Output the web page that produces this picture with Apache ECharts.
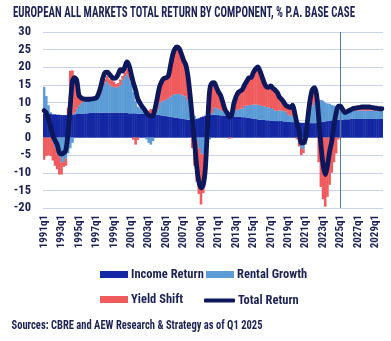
<!DOCTYPE html>
<html><head><meta charset="utf-8">
<script src="https://cdn.jsdelivr.net/npm/echarts@6/dist/echarts.min.js"></script>
<style>html,body{margin:0;padding:0;background:#fff}#c{width:391px;height:341px}</style>
</head><body><div id="c"></div>
<script>
// Quarter labels 1991q1 .. 2029q4
var years = [];
for (var y = 1991; y <= 2029; y++) years.push(y);
var categories = [];
years.forEach(function (y) { for (var q = 1; q <= 4; q++) categories.push(y + 'q' + q); });

var incomeReturn = [
 6.8,6.8,6.7,6.7, 6.6,6.6,6.5,6.5, 6.4,6.4,6.4,6.5, 6.5,6.6,6.6,6.7,
 6.7,6.8,6.8,6.9, 6.9,7.0,7.0,7.0, 7.0,7.1,7.1,7.1, 7.1,7.1,7.1,7.1,
 7.1,7.0,7.0,7.0, 7.0,7.0,7.0,6.9, 6.9,6.9,6.9,6.8, 6.8,6.8,6.8,6.7,
 6.7,6.6,6.6,6.5, 6.5,6.4,6.3,6.2, 6.1,6.0,5.9,5.8, 5.7,5.6,5.5,5.4,
 5.3,5.2,5.1,5.1, 5.1,5.2,5.3,5.5, 5.8,6.0,6.2,6.4, 6.5,6.5,6.5,6.4,
 6.4,6.3,6.3,6.2, 6.2,6.1,6.1,6.0, 6.0,5.9,5.9,5.8, 5.8,5.7,5.6,5.5,
 5.4,5.3,5.2,5.1, 5.0,5.0,4.9,4.9, 4.8,4.8,4.7,4.7, 4.7,4.7,4.6,4.6,
 4.5,4.5,4.4,4.4, 4.3,4.3,4.2,4.2, 4.2,4.1,4.1,4.1, 4.1,4.2,4.3,4.4,
 4.5,4.6,4.7,4.8, 4.9,5.0,5.0,5.1, 5.1,5.1,5.2,5.2, 5.2,5.3,5.3,5.3,
 5.3,5.3,5.3,5.3, 5.3,5.3,5.3,5.3, 5.3,5.3,5.3,5.3
];
var rentalGrowth = [
 7.6,5.0,2.5,0.5, -1.5,-3.0,-4.5,-5.5, -7.0,-7.0,-6.0,-4.5, -3.0,-1.5,0.5,1.5,
 2.5,3.0,3.5,3.5, 3.5,3.6,3.7,3.8, 3.8,4.5,5.5,7.5, 8.5,9.0,8.0,7.5,
 7.3,7.2,7.5,8.0, 9.5,10.5,11.0,10.0, 8.5,6.0,3.5,2.0, 1.5,1.0,0.5,-0.5,
 -1.5,-2.0,-1.0,0.5, 1.5,3.5,4.0,4.3, 4.8,5.2,5.8,6.3, 6.6,6.8,6.9,6.8,
 6.7,6.5,5.5,4.5, 2.0,1.0,-1.0,-3.0, -4.5,-4.8,-3.0,-2.0, -0.5,0.5,2.0,2.0,
 1.8,1.5,1.2,1.0, 0.5,0.3,0.5,1.0, 1.8,2.0,2.3,2.5, 3.2,3.4,3.6,3.8,
 4.0,4.1,4.2,4.1, 4.0,3.9,3.8,3.7, 3.6,3.4,3.0,2.9, 3.0,3.0,2.9,2.8,
 2.0,1.8,1.7,1.5, 0.5,-1.5,-3.0,-3.4, -2.0,1.5,3.5,5.0, 6.0,6.5,6.5,6.3,
 6.0,5.3,5.0,4.8, 4.4,4.1,3.9,3.7, 3.0,2.4,2.1,2.1, 2.2,2.3,2.3,2.4,
 2.4,2.4,2.4,2.4, 2.4,2.4,2.4,2.3, 2.3,2.3,2.3,2.3
];
var yieldShift = [
 -6.3,-5.2,-5.0,-5.2, -5.0,-5.0,-4.5,-5.0, -3.5,-1.3,-2.0,2.0, 12.5,12.5,9.5,6.5,
 2.5,1.5,1.0,0.5, 0.5,0.4,0.6,0.5, 0.3,0.5,0.5,1.0, 1.0,1.5,1.5,2.0,
 1.5,1.0,1.0,1.5, 1.0,1.0,1.5,1.5, 0.3,-0.6,-2.0,-0.6, 0,0,0,0,
 1.0,1.5,1.5,2.5, 5.0,5.0,5.0,5.5, 6.0,7.0,9.0,11.5, 12.8,12.9,12.2,10.5,
 9.5,8.5,3.5,0.5, -3.0,-8.0,-11.5,-13.0, -14.5,-11.0,-7.0,3.0, 8.5,8.5,7.0,5.8,
 4.5,3.5,2.0,1.0, 0.3,-0.3,-0.2,0.8, 2.5,3.5,4.8,5.5, 6.0,7.0,7.5,7.8,
 8.8,10.0,11.0,10.2, 8.0,7.2,5.8,5.5, 5.8,5.8,5.5,4.8, 4.3,3.5,2.5,1.8,
 2.0,2.3,2.5,1.0, -0.5,-1.0,-2.0,-1.0, 0,1.5,3.0,4.5, 3.8,1.5,-7.0,-14.0,
 -17.5,-19.6,-16.8,-13.4, -10.0,-7.0,-4.5,-0.5, 0.2,0.1,0.1,0.2, 0.3,0.5,0.7,0.8,
 0.9,1.0,1.0,1.0, 1.0,1.0,0.9,0.9, 0.9,0.8,0.8,0.7
];
var totalReturn = [
 7.7,7.0,5.2,3.0, 0.6,-0.8,-2.0,-4.3, -4.7,-4.4,-3.5,1.4, 9.0,16.0,17.0,16.2,
 12.0,11.3,11.0,10.9, 10.9,10.9,11.0,11.1, 11.3,12.5,14.5,17.0, 18.5,18.6,18.0,17.2,
 16.8,17.0,18.0,19.3, 18.9,20.0,21.5,20.5, 18.0,15.5,13.5,11.0, 9.8,8.8,8.0,7.0,
 6.3,6.1,6.3,8.5, 11.5,14.5,16.0,16.8, 17.0,17.5,20.5,23.5, 25.2,25.8,25.3,23.8,
 22.0,20.7,17.5,12.0, 5.5,-1.0,-8.0,-12.5, -14.3,-13.5,-8.7,3.5, 13.5,15.5,15.6,14.4,
 13.0,12.0,10.0,8.0, 7.0,5.8,6.3,9.5, 11.5,12.8,13.2,13.7, 15.0,16.0,17.0,17.1,
 18.5,19.5,20.1,19.0, 17.3,15.6,14.4,14.3, 14.7,14.0,13.5,12.8, 11.5,10.9,10.0,9.1,
 8.8,8.5,9.2,7.0, 4.0,1.8,-1.5,-1.5, 0.0,5.6,10.5,13.5, 14.2,12.3,5.5,-2.0,
 -7.7,-10.5,-8.0,-4.0, -1.0,3.5,7.0,8.9, 8.9,8.0,7.1,7.4, 7.7,8.0,8.3,8.4,
 8.5,8.6,8.7,8.7, 8.7,8.7,8.6,8.5, 8.4,8.3,8.2,8.2
];
var yTicks = { min: -20, max: 30, interval: 5 };
var forecastStart = '2025q1';
var titleText = 'EUROPEAN ALL MARKETS TOTAL RETURN BY COMPONENT, % P.A. BASE CASE';
var sourceText = 'Sources: CBRE and AEW Research & Strategy as of Q1 2025';

var FONT = "'Roboto Condensed'";
var TXT = '#1c2354';
var C_INC = '#1428a3', C_RENT = '#5b9bd6', C_YLD = '#f05b5d', C_TOT = '#0d175c';

// horizontal squeeze so wide text spans the same width as the reference
var mctx = document.createElement('canvas').getContext('2d');
function fitScale(text, font, target) { mctx.font = font; return target / mctx.measureText(text).width; }
var titleFont = 'bold 14px ' + FONT;
var srcFont = 'bold 12.5px ' + FONT;
var titleScale = fitScale(titleText, titleFont, 342);
var srcScale = fitScale(sourceText, srcFont, 251);

var chart = echarts.init(document.getElementById('c'), null, { renderer: 'canvas' });
function leg(name, left, top, icon, w, h) {
  return { data: [name], left: left, top: top, icon: icon, itemWidth: w, itemHeight: h, itemGap: 0,
    textStyle: { color: TXT, fontFamily: FONT, fontWeight: 'bold', fontSize: 12.5, padding: [0, 0, 0, -2] },
    padding: 0, selectedMode: false };
}
chart.setOption({
  animation: false,
  legend: [
    leg('Income Return', 100, 268, 'rect', 28, 7),
    leg('Rental Growth', 206, 268, 'rect', 28, 7),
    leg('Yield Shift', 100, 293, 'rect', 28, 7),
    leg('Total Return', 204, 294, 'roundRect', 31, 4)
  ],
  graphic: [
    { type: 'text', x: 13, y: 13, scaleX: titleScale, originX: 0,
      style: { text: titleText, fill: TXT, font: titleFont, verticalAlign: 'middle' } },
    { type: 'text', x: 11.5, y: 325.5, scaleX: srcScale, originX: 0,
      style: { text: sourceText, fill: TXT, font: srcFont, verticalAlign: 'middle' } }
  ],
  grid: { left: 43, right: 8, top: 32, bottom: 133 },
  xAxis: { type: 'category', data: categories, boundaryGap: true,
    axisLine: { show: false }, axisTick: { show: false },
    axisLabel: { interval: 7, rotate: 90, fontFamily: FONT, fontWeight: 'bold', fontSize: 11, color: TXT, margin: 7 } },
  yAxis: { type: 'value', min: yTicks.min, max: yTicks.max, interval: yTicks.interval,
    axisLine: { show: false }, axisTick: { show: false },
    axisLabel: { fontFamily: FONT, fontWeight: 'bold', fontSize: 12.5, color: TXT, margin: 12 },
    splitLine: { lineStyle: { color: '#cdd2ec', width: 1 } } },
  series: [
    { name: 'Income Return', type: 'bar', stack: 'a', data: incomeReturn, barWidth: 2.6,
      itemStyle: { color: C_INC }, z: 2,
      markLine: { silent: true, symbol: 'none', label: { show: false },
        lineStyle: { color: '#50799a', width: 1, type: 'solid' }, data: [{ xAxis: forecastStart }] } },
    { name: 'Rental Growth', type: 'bar', stack: 'a', data: rentalGrowth, barWidth: 2.6, itemStyle: { color: C_RENT }, z: 2 },
    { name: 'Yield Shift', type: 'bar', stack: 'a', data: yieldShift, barWidth: 2.6, itemStyle: { color: C_YLD }, z: 2 },
    { name: 'Total Return', type: 'line', data: totalReturn, smooth: 0.3, showSymbol: false, symbol: 'none',
      lineStyle: { color: C_TOT, width: 4.8, cap: 'round', join: 'round' }, itemStyle: { color: C_TOT }, z: 5 }
  ]
});
</script></body></html>
